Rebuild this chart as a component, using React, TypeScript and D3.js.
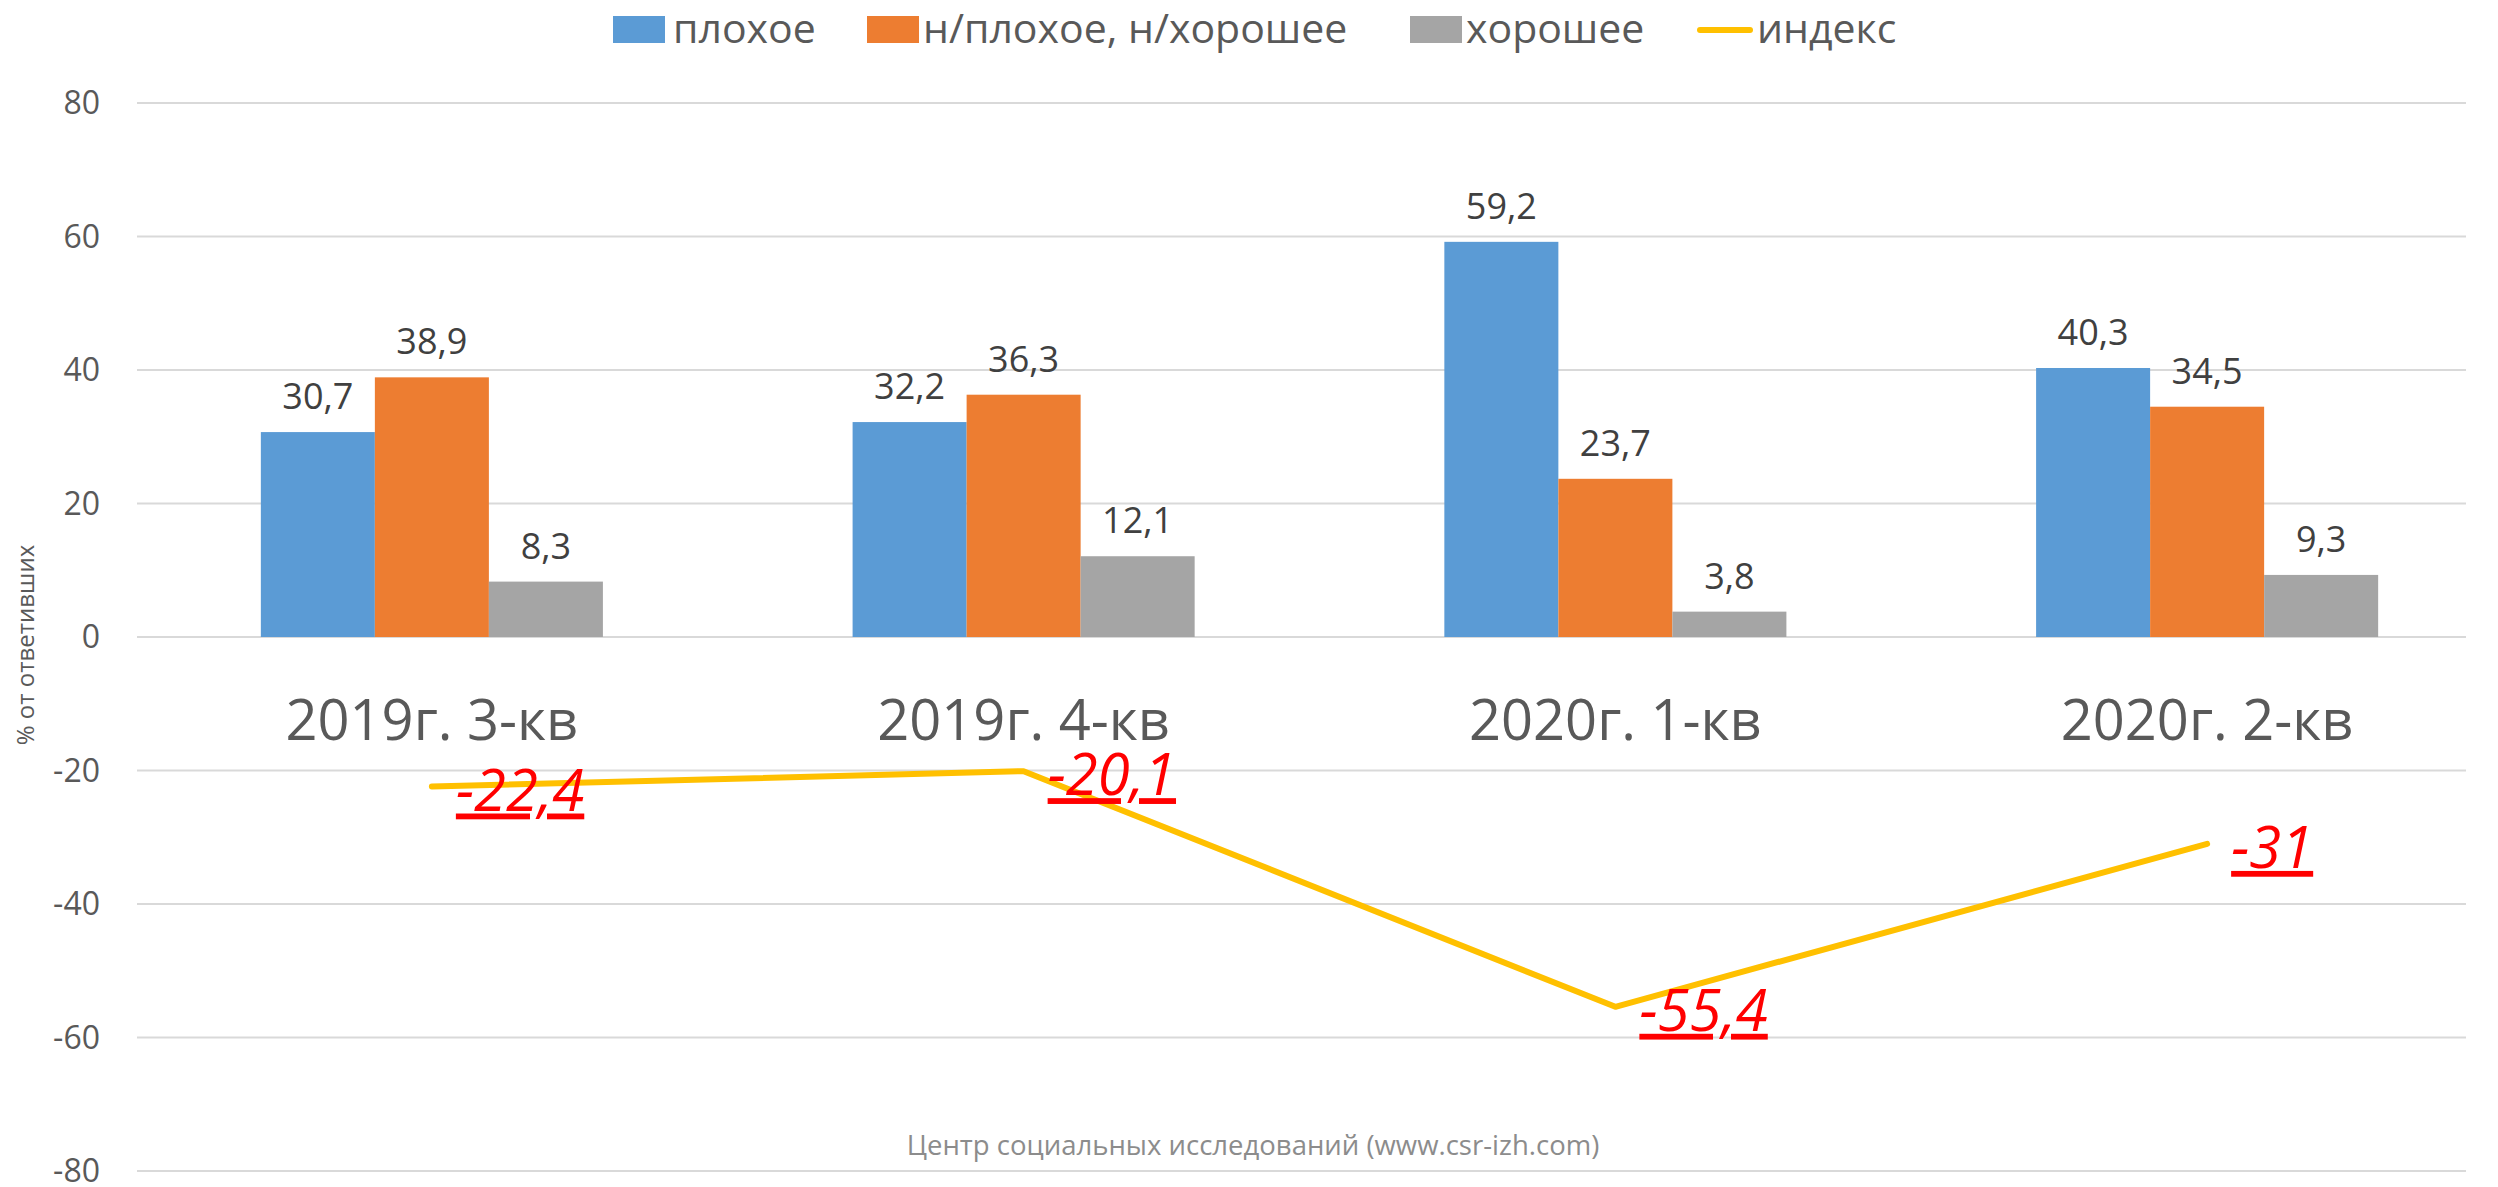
import React, { useEffect } from "react";
import * as d3 from "d3";

const categories = ["2019г. 3-кв", "2019г. 4-кв", "2020г. 1-кв", "2020г. 2-кв"];
const seriesNames = ["плохое", "н/плохое, н/хорошее", "хорошее"];
const badValues = [30.7, 32.2, 59.2, 40.3];
const neutralValues = [38.9, 36.3, 23.7, 34.5];
const goodValues = [8.3, 12.1, 3.8, 9.3];
const indexValues = [-22.4, -20.1, -55.4, -31];
const indexName = "индекс";
const yTicks = [-80, -60, -40, -20, 0, 20, 40, 60, 80];
const yTitle = "% от ответивших";
const footer = "Центр социальных исследований (www.csr-izh.com)";

const W = 2498;
const H = 1187;
const COLORS = ["#5B9BD5", "#ED7D31", "#A5A5A5"];
const LINE_COLOR = "#FFC000";
const FONT = "'Open Sans', sans-serif";

const fmt = (v: number) => String(v).replace(".", ",");

export default function App() {
  useEffect(() => {
    document.body.style.margin = "0";
    document.body.style.overflow = "hidden";
  }, []);

  const seriesValues = [badValues, neutralValues, goodValues];

  const y = d3.scaleLinear().domain([-80, 80]).range([1171, 103]);
  const x0 = d3.scaleBand<string>().domain(categories).range([136, 2503]).padding(0);
  const x1 = d3
    .scaleBand<string>()
    .domain(seriesNames)
    .range([0, x0.step()])
    .paddingInner(0)
    .paddingOuter(1.095);

  const gridLeft = 137;
  const gridRight = 2466;

  const lineGen = d3
    .line<number>()
    .x((_, i) => (x0(categories[i]) as number) + x0.bandwidth() / 2)
    .y((d) => y(d));

  const legendItems = [
    { x: 613, textX: 673, type: "rect", color: COLORS[0], label: seriesNames[0] },
    { x: 867, textX: 923, type: "rect", color: COLORS[1], label: seriesNames[1] },
    { x: 1410, textX: 1466, type: "rect", color: COLORS[2], label: seriesNames[2] },
    { x: 1697, textX: 1757, type: "line", color: LINE_COLOR, label: indexName },
  ];

  return (
    <svg
      width={W}
      height={H}
      style={{ position: "absolute", left: 0, top: 0, background: "#fff" }}
      fontFamily={FONT}
    >
      <rect x={0} y={0} width={W} height={H} fill="#fff" />
      {/* gridlines */}
      {yTicks.map((t) => (
        <line
          key={"g" + t}
          x1={gridLeft}
          x2={gridRight}
          y1={y(t)}
          y2={y(t)}
          stroke="#D9D9D9"
          strokeWidth={2}
        />
      ))}
      {/* y tick labels */}
      {yTicks.map((t) => (
        <text
          key={"t" + t}
          x={100}
          y={y(t)}
          dy="0.35em"
          textAnchor="end"
          fontSize={32}
          fill="#595959"
        >
          {t}
        </text>
      ))}
      {/* y title */}
      <text
        transform={`translate(34,645) rotate(-90)`}
        textAnchor="middle"
        fontSize={24}
        fill="#595959"
      >
        {yTitle}
      </text>
      {/* bars */}
      {categories.map((c, ci) => (
        <g key={c} transform={`translate(${x0(c)},0)`}>
          {seriesNames.map((s, si) => {
            const v = seriesValues[si][ci];
            const bx = x1(s) as number;
            return (
              <g key={s}>
                <rect
                  x={bx}
                  y={y(v)}
                  width={x1.bandwidth()}
                  height={y(0) - y(v)}
                  fill={COLORS[si]}
                />
                <text
                  x={bx + x1.bandwidth() / 2}
                  y={y(v) - 23}
                  textAnchor="middle"
                  fontSize={36}
                  fill="#404040"
                >
                  {fmt(v)}
                </text>
              </g>
            );
          })}
          <text
            x={x0.bandwidth() / 2}
            y={740}
            textAnchor="middle"
            fontSize={56}
            fill="#595959"
          >
            {c}
          </text>
        </g>
      ))}
      {/* index line */}
      <path
        d={lineGen(indexValues) || ""}
        fill="none"
        stroke={LINE_COLOR}
        strokeWidth={6}
        strokeLinejoin="round"
        strokeLinecap="round"
      />
      {indexValues.map((v, i) => (
        <text
          key={"l" + i}
          x={(x0(categories[i]) as number) + x0.bandwidth() / 2 + 24}
          y={y(v) + 24}
          fontSize={58}
          fontStyle="italic"
          fill="#FF0000"
          textDecoration="underline"
        >
          {fmt(v)}
        </text>
      ))}
      {/* legend */}
      {legendItems.map((it) => (
        <g key={it.label}>
          {it.type === "rect" ? (
            <rect x={it.x} y={16} width={52} height={27} fill={it.color} />
          ) : (
            <line
              x1={it.x + 3}
              x2={it.x + 53}
              y1={30}
              y2={30}
              stroke={it.color}
              strokeWidth={6}
              strokeLinecap="round"
            />
          )}
          <text x={it.textX} y={43} fontSize={41} fill="#595959">
            {it.label}
          </text>
        </g>
      ))}
      {/* footer */}
      <text x={1253} y={1155} textAnchor="middle" fontSize={27.5} fill="#8C8C8C">
        {footer}
      </text>
    </svg>
  );
}
